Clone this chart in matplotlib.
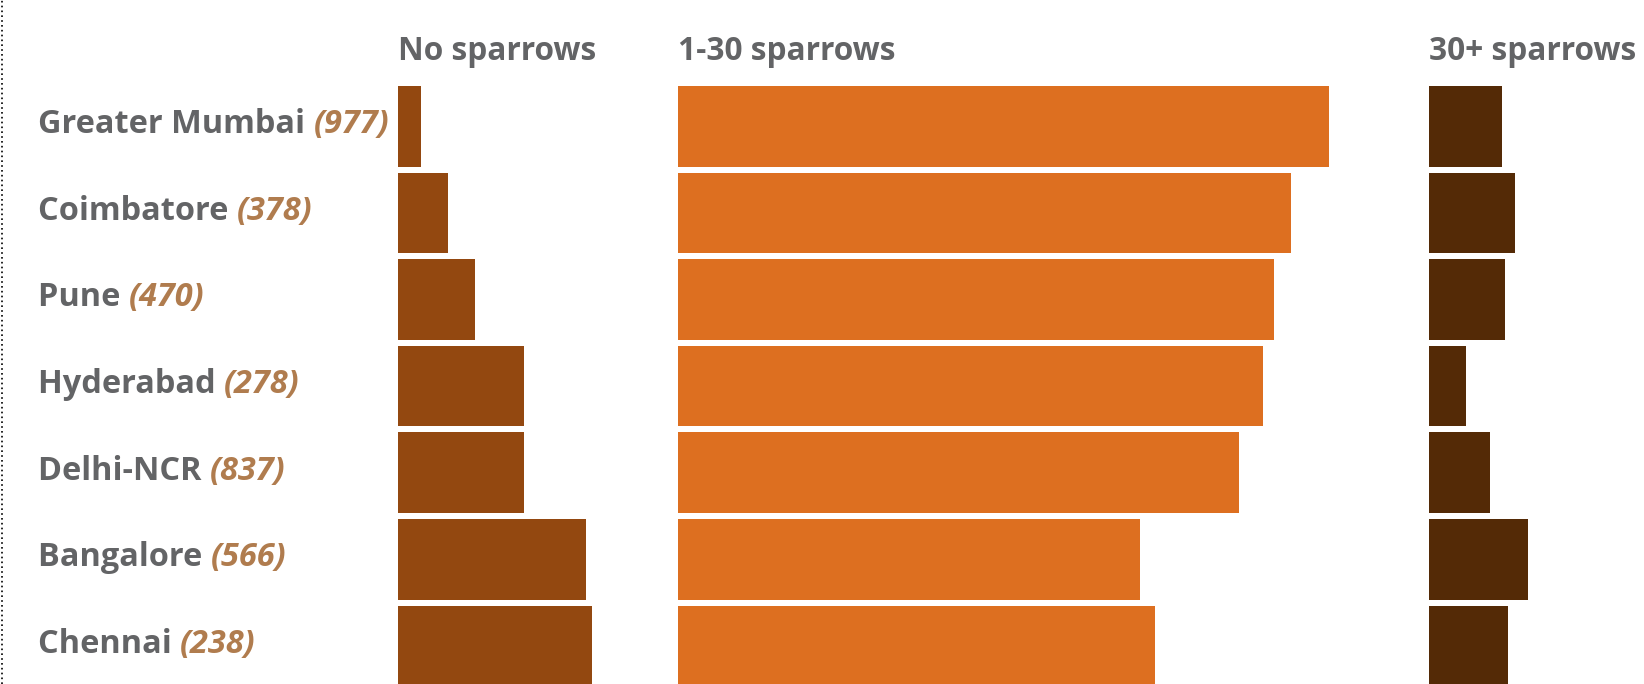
import matplotlib
matplotlib.use("Agg")
import matplotlib.pyplot as plt
from matplotlib.lines import Line2D
from matplotlib.transforms import blended_transform_factory

# share of respondents (%) per city
cities = ["Greater Mumbai", "Coimbatore", "Pune", "Hyderabad", "Delhi-NCR", "Bangalore", "Chennai"]
responses = [977, 378, 470, 278, 837, 566, 238]
no_sparrows = [3.1, 6.6, 10.3, 16.8, 16.8, 25.1, 25.9]
few_sparrows = [87.1, 82.0, 79.7, 78.2, 75.0, 61.8, 63.8]
many_sparrows = [9.7, 11.5, 10.1, 5.0, 8.2, 13.2, 10.5]

titles = ["No sparrows", "1-30 sparrows", "30+ sparrows"]
colors = ["#934810", "#DD6F20", "#542A06"]

W, H = 1644, 684
PX_PER_PCT = 7.48
GRAY = "#636466"
TAN = "#B07C4E"
FONT = ["Open Sans", "DejaVu Sans"]

fig = plt.figure(figsize=(W / 100, H / 100), dpi=100)

# panel left edges in pixels and x-limits in %
panels = [(398.3, 30, no_sparrows), (677.7, 100, few_sparrows), (1429.0, 30, many_sparrows)]
row_px = 86.6
first_center = 126.3
y_top = -first_center / row_px
y_bot = (H - first_center) / row_px

axes = []
for (left, xmax, vals), color, title in zip(panels, colors, titles):
    ax = fig.add_axes([left / W, 0, xmax * PX_PER_PCT / W, 1])
    ax.barh(range(len(cities)), vals, height=0.93, color=color, left=0)
    ax.set_xlim(0, xmax)
    ax.set_ylim(y_bot, y_top)
    ax.axis("off")
    axes.append(ax)
    fig.text(left / W, 1 - 59.5 / H, title, fontsize=22.8, fontweight="bold",
             color=GRAY, family=FONT, va="baseline", ha="left")

# city labels with number of responses
trans = blended_transform_factory(fig.transFigure, axes[0].transData)
for i, (city, n) in enumerate(zip(cities, responses)):
    t = axes[0].text(38 / W, i + 0.08, city + " ", transform=trans, fontsize=23.4,
                     fontweight="bold", color=GRAY, family=FONT,
                     va="baseline", ha="left", clip_on=False)
    axes[0].annotate(f"({n})", xy=(1, 0), xycoords=t, fontsize=23.4,
                     fontweight="bold", fontstyle="italic", color=TAN,
                     family=FONT, va="bottom", ha="left", annotation_clip=False)

# dotted border on the left edge
fig.add_artist(Line2D([1.5 / W, 1.5 / W], [0, 1], transform=fig.transFigure,
                      color="black", linewidth=1.2, linestyle=(0, (1, 1.9))))

fig.savefig("out.png", dpi=100, facecolor="white")
